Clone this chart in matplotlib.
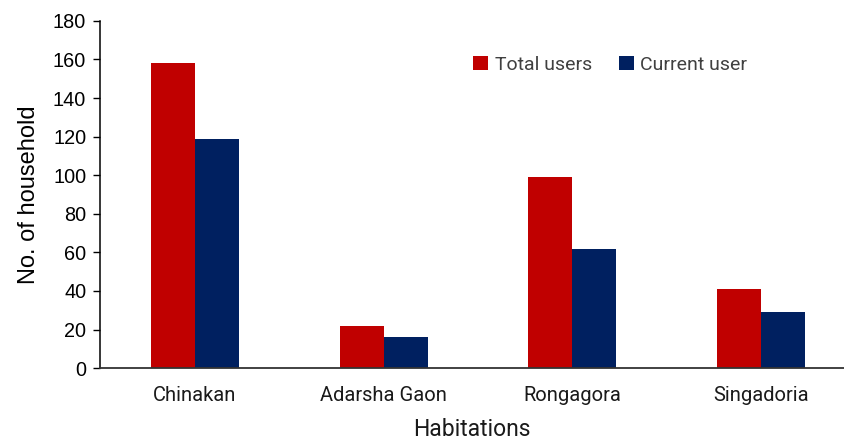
import numpy as np
import matplotlib
matplotlib.use("Agg")
import matplotlib.pyplot as plt

# Data
habitations = ["Chinakan", "Adarsha Gaon", "Rongagora", "Singadoria"]
total_users = [158, 22, 99, 41]
current_users = [119, 16, 62, 29]

RED = "#C00000"
BLUE = "#002060"

fig = plt.figure(figsize=(8.44, 4.43), dpi=100)
ax = fig.add_axes([0.1185, 0.169, 0.8815, 0.784])

x = np.arange(len(habitations))
w = 0.233
ax.bar(x - w / 2, total_users, width=w, color=RED, label="Total users")
ax.bar(x + w / 2, current_users, width=w, color=BLUE, label="Current user")

ax.set_xlim(-0.503, 3.44)
ax.set_ylim(0, 180)
ax.set_yticks(range(0, 181, 20))
ax.set_xticks(x)
ax.set_xticklabels(habitations, fontsize=14.5, family="Roboto", color="#1a1a1a")
ax.tick_params(axis="x", length=0, pad=13)
ax.tick_params(axis="y", length=5, width=1, direction="out", labelsize=14.3, pad=5)
for lab in ax.get_yticklabels():
    lab.set_family("Liberation Sans")

for side in ["top", "right"]:
    ax.spines[side].set_visible(False)
ax.spines["left"].set_linewidth(1.1)
ax.spines["bottom"].set_linewidth(1.3)
ax.spines["bottom"].set_color("#333333")

ax.set_ylabel("No. of household", fontsize=17, family="Liberation Sans", labelpad=9)
ax.set_xlabel("Habitations", fontsize=16.5, family="Roboto", labelpad=9, color="#1a1a1a")

leg = ax.legend(loc="upper left", bbox_to_anchor=(0.478, 0.95), ncol=2, frameon=False,
                handlelength=0.75, handleheight=0.75, handletextpad=0.35, columnspacing=1.4,
                prop={"family": "Roboto", "size": 14})
for t in leg.get_texts():
    t.set_color("#404040")

fig.savefig("out.png", dpi=100, facecolor="white")
